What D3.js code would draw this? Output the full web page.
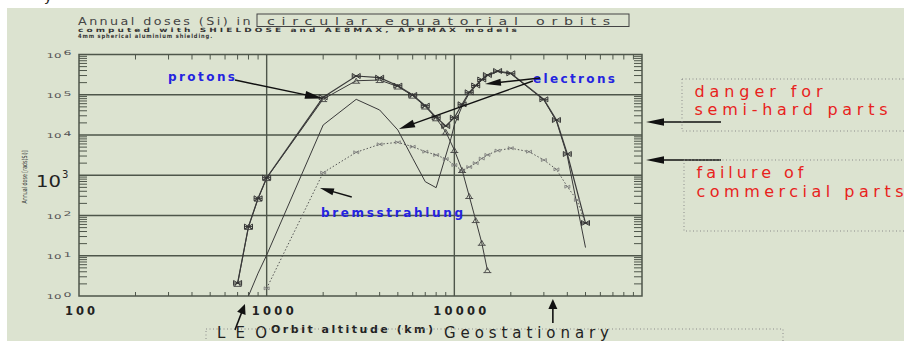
<!DOCTYPE html>
<html><head><meta charset="utf-8">
<script src="https://cdn.jsdelivr.net/npm/d3@7"></script>
<style>
html,body{margin:0;padding:0;background:#fff;}
svg{display:block;}
text{font-family:"DejaVu Sans",sans-serif;}
</style></head><body>
<svg id="c" width="904" height="341"></svg>
<script>
// ---------- data ----------
const altTotal  = [700,800,900,1000,2000,3000,4000,5000,6000,7000,8000,9000,10000,11000,12000,13000,14000,15000,17000,20000,30000,35000,40000,50000];
const doseTotal = [2.1,53,267,870,86500,292000,265000,168000,98600,53500,27500,16700,26900,57900,115000,170000,239000,309000,389000,341000,77000,23600,3370,65];

const altProtons  = [700,800,900,1000,2000,3000,4000,5000,6000,7000,8000,9000,10000,11000,12000,13000,14000,15000];
const doseProtons = [2.0,52,262,850,78000,223000,232000,160000,95000,51000,26000,12000,4240,1350,305,77,21,4.4];

const altElectrons  = [800,900,1000,2000,3000,4000,5000,6000,7000,8000,9600,10000,11000,12000,13000,14000,15000,17000,20000,30000,35000,40000,50000];
const doseElectrons = [1.0,3.7,10.4,17700,77000,41800,13300,2640,692,491,8280,17700,52000,108000,163000,228000,295000,375000,330000,74000,22000,3000,16];

const altBrems  = [1000,2000,3000,4000,5000,6000,7000,8000,9000,10000,11000,12000,13000,14000,15000,17000,20000,25000,30000,35000,40000,45000,50000];
const doseBrems = [1.55,1160,3720,5870,6590,5120,3850,3190,2540,1800,1300,1600,2000,2600,3200,4100,4700,3850,2390,1400,520,243,64];

const xTickValues = [100,1000,10000];
const xTickLabels = ["100","1000","10000"];
const yTickValues = [1,10,100,1000,10000,100000,1000000];
const yTickExponents = ["0","1","2","3","4","5","6"];
const thresholdDoses = [21000,2400];
const thresholdLabels = [["danger for","semi-hard parts"],["failure of","commercial parts"]];
const seriesLabels = ["protons","electrons","bremsstrahlung"];
// arrows in data units [alt, dose] -> [alt, dose]
const arrowProtons = [[678,232000],[1995,80700]];
const arrowElectronsA = [[28600,260000],[14560,185000]];
const arrowElectronsB = [[26200,220000],[5070,14100]];
const arrowBrems = [[2840,288],[1923,482]];
const orbitAlts = [766,33500];
const orbitLabels = ["LEO","Geostationary"];

// ---------- layout ----------
const W=904,H=341;
const svg=d3.select("#c");
svg.append("rect").attr("x",7).attr("y",8).attr("width",W-7).attr("height",H-8).attr("fill","#dce3d0");
svg.append("text").attr("x",44).attr("y",1).attr("font-size",14).attr("fill","#222").text("y");

const x=d3.scaleLog().domain([100,100000]).range([79,642]);
const y=d3.scaleLog().domain([1,1e6]).range([296,54.5]);
const X0=x.range()[0],X1=x.range()[1],Y0=y.range()[0],Y1=y.range()[1];
const gridC="#4e564a", curveC="#3a3a3a";

// grid lines
const g=svg.append("g");
g.selectAll("line.h").data(yTickValues.slice(1,-1)).enter().append("line")
 .attr("x1",X0).attr("x2",X1).attr("y1",d=>y(d)).attr("y2",d=>y(d))
 .attr("stroke",gridC).attr("stroke-width",1.4);
g.selectAll("line.v").data([1000,10000]).enter().append("line")
 .attr("y1",Y0).attr("y2",Y1).attr("x1",d=>x(d)).attr("x2",d=>x(d))
 .attr("stroke",gridC).attr("stroke-width",1.4);

// minor ticks
const yMinor=[];for(let d=0;d<6;d++)for(let k=2;k<=9;k++)yMinor.push(k*Math.pow(10,d));
const xMinor=[];for(let d=2;d<5;d++)for(let k=2;k<=9;k++)xMinor.push(k*Math.pow(10,d));
g.selectAll("line.yl").data(yMinor).enter().append("line")
 .attr("x1",X0).attr("x2",X0+8).attr("y1",d=>y(d)).attr("y2",d=>y(d)).attr("stroke",gridC).attr("stroke-width",1);
g.selectAll("line.yr").data(yMinor).enter().append("line")
 .attr("x1",X1).attr("x2",X1-8).attr("y1",d=>y(d)).attr("y2",d=>y(d)).attr("stroke",gridC).attr("stroke-width",1);
g.selectAll("line.xb").data(xMinor).enter().append("line")
 .attr("y1",Y0).attr("y2",Y0-4).attr("x1",d=>x(d)).attr("x2",d=>x(d)).attr("stroke",gridC).attr("stroke-width",1);
g.selectAll("line.xt").data(xMinor).enter().append("line")
 .attr("y1",Y1).attr("y2",Y1+5).attr("x1",d=>x(d)).attr("x2",d=>x(d)).attr("stroke",gridC).attr("stroke-width",1);
// frame
g.append("rect").attr("x",X0).attr("y",Y1).attr("width",X1-X0).attr("height",Y0-Y1)
 .attr("fill","none").attr("stroke",gridC).attr("stroke-width",1.5);

// curves
const zip=(a,b)=>a.map((v,i)=>[v,b[i]]);
const line=d3.line().x(d=>x(d[0])).y(d=>y(d[1]));
const total=zip(altTotal,doseTotal), prot=zip(altProtons,doseProtons),
      elec=zip(altElectrons,doseElectrons), brem=zip(altBrems,doseBrems);
const cg=svg.append("g");
cg.append("path").attr("d",line(brem)).attr("fill","none").attr("stroke","#555").attr("stroke-width",1).attr("stroke-dasharray","1.5,2");
cg.append("path").attr("d",line(elec)).attr("fill","none").attr("stroke",curveC).attr("stroke-width",1);
cg.append("path").attr("d",line(prot)).attr("fill","none").attr("stroke",curveC).attr("stroke-width",1);
cg.append("path").attr("d",line(total)).attr("fill","none").attr("stroke",curveC).attr("stroke-width",1.2);

// markers
cg.selectAll("path.bm").data(brem).enter().append("path")
 .attr("transform",d=>`translate(${x(d[0])},${y(d[1])})`)
 .attr("d","M-2.5,-1.5L2.5,1.5M-2.5,1.5L2.5,-1.5M-2.5,-1.5V1.5M2.5,-1.5V1.5")
 .attr("fill","none").attr("stroke","#777").attr("stroke-width",0.8);
cg.selectAll("path.pm").data(prot).enter().append("path")
 .attr("transform",d=>`translate(${x(d[0])},${y(d[1])})`)
 .attr("d","M-4,2.5H4M-2.8,2.5L0,-2.5L2.8,2.5")
 .attr("fill","none").attr("stroke","#444").attr("stroke-width",0.9);
cg.selectAll("path.tm").data(total).enter().append("path")
 .attr("transform",d=>`translate(${x(d[0])},${y(d[1])})`)
 .attr("d","M-4,-2.5V2.5M4,-2.5V2.5M-4,-2.5L4,2.5M-4,2.5L4,-2.5M-4,0H4")
 .attr("fill","none").attr("stroke","#333").attr("stroke-width",1);

// y tick labels
const yl=svg.append("g").attr("fill","#555");
yTickValues.forEach((v,i)=>{
  if(yTickExponents[i]==="3"){
    svg.append("text").attr("x",36).attr("y",y(v)+11.5).attr("font-family","DejaVu Serif, serif")
      .attr("font-size",16).attr("fill","#222").attr("textLength",25).attr("lengthAdjust","spacingAndGlyphs").text("10");
    svg.append("text").attr("x",62).attr("y",y(v)+2.5).attr("font-family","DejaVu Serif, serif")
      .attr("font-size",10).attr("fill","#222").text("3");
  } else {
    yl.append("text").attr("x",46.5).attr("y",y(v)+3.3).attr("font-size",6.5)
      .attr("textLength",15).attr("lengthAdjust","spacingAndGlyphs").text("10");
    yl.append("text").attr("x",63.5).attr("y",y(v)+0.8).attr("font-size",6.5)
      .attr("textLength",8).attr("lengthAdjust","spacingAndGlyphs").text(yTickExponents[i]);
  }
});
svg.append("text").attr("transform","translate(27,177) rotate(-90)").attr("text-anchor","middle")
 .attr("font-size",7).attr("fill","#333").attr("textLength",53).attr("lengthAdjust","spacingAndGlyphs")
 .text("Annual dose [rads(Si)]");

// x tick labels
const xOff=[-14,-15,-21], xLen=[30,42,53];
xTickValues.forEach((v,i)=>{
  svg.append("text").attr("x",x(v)+xOff[i]).attr("y",315).attr("font-size",11.5).attr("font-weight","bold")
   .attr("fill","#222").attr("textLength",xLen[i]).attr("lengthAdjust","spacing").text(xTickLabels[i]);
});
svg.append("text").attr("x",271).attr("y",332.5).attr("font-size",11).attr("font-weight","bold")
 .attr("fill","#222").attr("textLength",162).attr("lengthAdjust","spacing").text("Orbit altitude (km)");

// title
svg.append("text").attr("x",78).attr("y",24.7).attr("font-size",10.5).attr("fill","#444").attr("letter-spacing",2)
 .attr("textLength",175).attr("lengthAdjust","spacingAndGlyphs").text("Annual doses (Si) in");
svg.append("rect").attr("x",257).attr("y",14).attr("width",372).attr("height",12.5)
 .attr("fill","none").attr("stroke","#444").attr("stroke-width",1);
svg.append("text").attr("x",267).attr("y",24.5).attr("font-size",10.5).attr("fill","#444").attr("letter-spacing",5)
 .attr("textLength",350).attr("lengthAdjust","spacingAndGlyphs").text("circular equatorial orbits");
svg.append("text").attr("x",78).attr("y",32).attr("font-size",5.8).attr("font-weight","bold").attr("fill","#333").attr("letter-spacing",2)
 .attr("textLength",442).attr("lengthAdjust","spacingAndGlyphs").text("computed with SHIELDOSE and AE8MAX, AP8MAX models");
svg.append("text").attr("x",78).attr("y",38.3).attr("font-size",5.8).attr("font-weight","bold").attr("fill","#333").attr("letter-spacing",1)
 .attr("textLength",135).attr("lengthAdjust","spacingAndGlyphs").text("4mm spherical aluminium shielding.");

// series labels
const blue="#2424e0";
const labPos=[[168,80.5,67],[533,83,82],[321,217,142]];
seriesLabels.forEach((s,i)=>{
  svg.append("text").attr("x",labPos[i][0]).attr("y",labPos[i][1]).attr("font-size",12).attr("font-weight","bold")
   .attr("fill",blue).attr("textLength",labPos[i][2]).attr("lengthAdjust","spacing").text(s);
});

// arrows
function arrow(x1,y1,x2,y2,len,w,sw){
  const a=Math.atan2(y2-y1,x2-x1),c=Math.cos(a),s=Math.sin(a);
  svg.append("line").attr("x1",x1).attr("y1",y1).attr("x2",x2-c*len*0.7).attr("y2",y2-s*len*0.7)
   .attr("stroke","#111").attr("stroke-width",sw||1.4);
  const bx=x2-c*len, by=y2-s*len;
  svg.append("path").attr("d",`M${x2},${y2}L${bx+s*w},${by-c*w}L${bx-s*w},${by+c*w}Z`).attr("fill","#111");
}
const dArrow=(a,len,w)=>arrow(x(a[0][0]),y(a[0][1]),x(a[1][0]),y(a[1][1]),len,w);
dArrow(arrowProtons,18,4);
dArrow(arrowElectronsA,16,3.5);
dArrow(arrowElectronsB,16,4);
dArrow(arrowBrems,14,3.5);
thresholdDoses.forEach(d=>arrow(721,y(d),X1+4,y(d),18,3.8));
arrow(x(orbitAlts[0])-10,330,x(orbitAlts[0]),304,10,4.5,1.6);
arrow(x(orbitAlts[1]),323,x(orbitAlts[1]),299,10,4.5,1.6);

// right boxes
const red="#e8221c";
const boxes=[[682,79,52,96.5,115],[684,160,71,177.5,196.5]];
const tl=[[128,193],[107,207]];
boxes.forEach((b,i)=>{
  svg.append("rect").attr("x",b[0]).attr("y",b[1]).attr("width",260).attr("height",b[2])
   .attr("fill","none").attr("stroke","#8a8a8a").attr("stroke-width",1).attr("stroke-dasharray","1,2.5");
  svg.append("text").attr("x",b[0]+12.5).attr("y",b[3]).attr("font-size",16).attr("fill",red)
   .attr("textLength",tl[i][0]).attr("lengthAdjust","spacing").text(thresholdLabels[i][0]);
  svg.append("text").attr("x",b[0]+12.5).attr("y",b[4]).attr("font-size",16).attr("fill",red)
   .attr("textLength",tl[i][1]).attr("lengthAdjust","spacing").text(thresholdLabels[i][1]);
});

// bottom box
svg.append("rect").attr("x",206).attr("y",329).attr("width",577).attr("height",30)
 .attr("fill","none").attr("stroke","#8a8a8a").attr("stroke-width",1).attr("stroke-dasharray","1,2.5");
svg.append("text").attr("x",217).attr("y",337.5).attr("font-size",15).attr("fill","#222")
 .attr("textLength",50).attr("lengthAdjust","spacing").text(orbitLabels[0]);
svg.append("text").attr("x",444).attr("y",337.5).attr("font-size",15).attr("fill","#222")
 .attr("textLength",165).attr("lengthAdjust","spacing").text(orbitLabels[1]);
</script>
</body></html>
